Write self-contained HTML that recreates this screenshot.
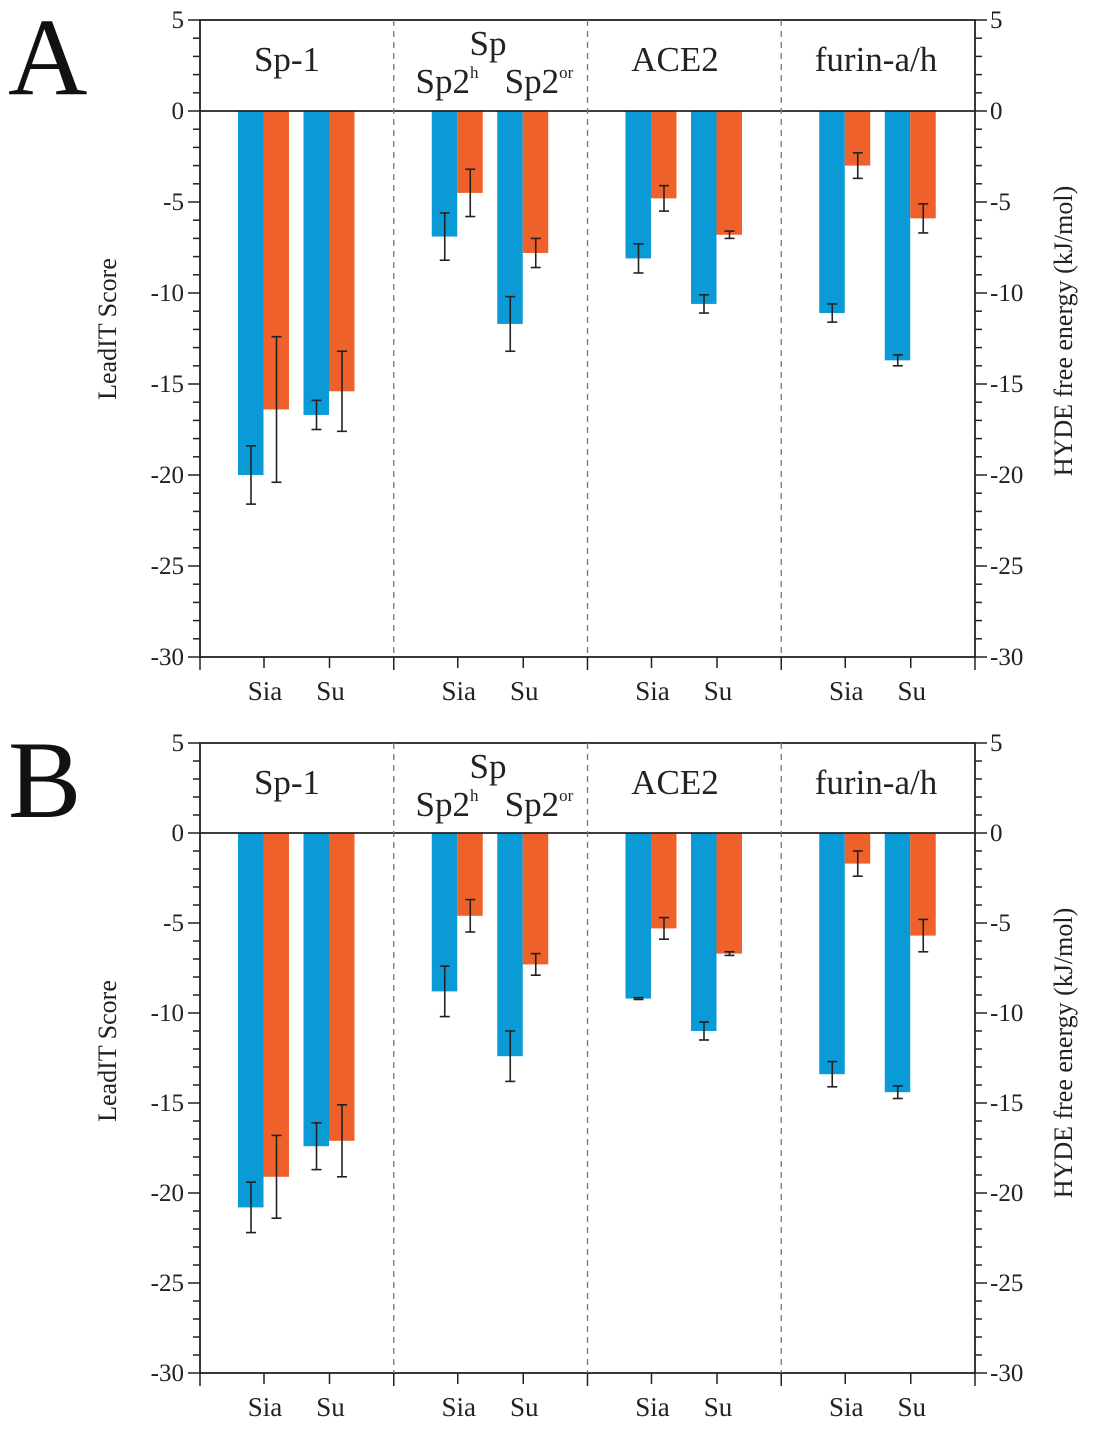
<!DOCTYPE html>
<html><head><meta charset="utf-8"><style>
body{margin:0;background:#fff;}
svg{display:block;font-family:"Liberation Serif",serif;}
</style></head><body>
<svg id="chart" width="1099" height="1438"></svg>
<script>
const groups=["Sp-1","Sp","ACE2","furin-a/h"];
const subcats=["Sia","Su"];
const aBlue=[-20.0,-16.7,-6.9,-11.7,-8.1,-10.6,-11.1,-13.7];
const aBlueErr=[1.6,0.8,1.3,1.5,0.8,0.5,0.5,0.3];
const aOrange=[-16.4,-15.4,-4.5,-7.8,-4.8,-6.8,-3.0,-5.9];
const aOrangeErr=[4.0,2.2,1.3,0.8,0.7,0.2,0.7,0.8];
const bBlue=[-20.8,-17.4,-8.8,-12.4,-9.2,-11.0,-13.4,-14.4];
const bBlueErr=[1.4,1.3,1.4,1.4,0.05,0.5,0.7,0.35];
const bOrange=[-19.1,-17.1,-4.6,-7.3,-5.3,-6.7,-1.7,-5.7];
const bOrangeErr=[2.3,2.0,0.9,0.6,0.6,0.1,0.7,0.9];
const yTicks=[5,0,-5,-10,-15,-20,-25,-30];

const svg=document.getElementById('chart');
const NS='http://www.w3.org/2000/svg';
function mk(tag,attrs,parent){const e=document.createElementNS(NS,tag);for(const k in attrs)e.setAttribute(k,attrs[k]);(parent||svg).appendChild(e);return e;}

function panel(letter,y5,y0,blue,blueErr,orange,orangeErr){
  const g=mk('g',{});
  
  
  const L=200,R=975,ppu=(y0-y5)/5;
  const Y=v=>y0-v*ppu;
  const yBot=Y(-30);
  const gw=(R-L)/4;
  const X=(gi,si)=>L+gi*gw+64+si*65.5;
  for(let i=0;i<8;i++){
    const gi=Math.floor(i/2),si=i%2,cx=X(gi,si);
    const b=mk('rect',{x:cx-26,y:y0,width:25.5,height:Y(blue[i])-y0,fill:'#0a9bd6'},g);
    
    
    const o=mk('rect',{x:cx-0.5,y:y0,width:25.5,height:Y(orange[i])-y0,fill:'#ef612b'},g);
    
    
    [[cx-13,blue[i],blueErr[i]],[cx+12.5,orange[i],orangeErr[i]]].forEach(([ex,v,e])=>{
      const eg=mk('g',{stroke:'#222','stroke-width':1.6},g);
      
      
      mk('line',{x1:ex,x2:ex,y1:Y(v+e),y2:Y(v-e)},eg);
      mk('line',{x1:ex-5,x2:ex+5,y1:Y(v+e),y2:Y(v+e)},eg);
      mk('line',{x1:ex-5,x2:ex+5,y1:Y(v-e),y2:Y(v-e)},eg);
    });
  }
  const f=mk('rect',{x:L,y:y5,width:R-L,height:yBot-y5,fill:'none',stroke:'#222','stroke-width':1.8},g);
  
  const z=mk('line',{x1:L,x2:R,y1:y0,y2:y0,stroke:'#222','stroke-width':1.8},g);
  
  for(let k=1;k<4;k++){
    const d=mk('line',{x1:L+k*gw,x2:L+k*gw,y1:y5,y2:yBot,stroke:'#777','stroke-width':1.3,'stroke-dasharray':'6,5'},g);
    
  }
  for(let v=5;v>=-30;v--){
    const maj=v%5===0;
    mk('line',{x1:L-(maj?12:7),x2:L,y1:Y(v),y2:Y(v),stroke:'#222','stroke-width':1.5},g);
    mk('line',{x1:R,x2:R+(maj?12:7),y1:Y(v),y2:Y(v),stroke:'#222','stroke-width':1.5},g);
  }
  yTicks.forEach(v=>{
    const t=mk('text',{x:L-16,y:Y(v)+8,'text-anchor':'end','font-size':25,fill:'#222'},g);t.textContent=v;
    
    const t2=mk('text',{x:R+15,y:Y(v)+8,'font-size':25,fill:'#222'},g);t2.textContent=v;
    
  });
  for(let k=0;k<=4;k++) mk('line',{x1:L+k*gw,x2:L+k*gw,y1:yBot,y2:yBot+13,stroke:'#222','stroke-width':1.5},g);
  for(let gi=0;gi<4;gi++)for(let si=0;si<2;si++){
    const cx=X(gi,si);
    mk('line',{x1:cx,x2:cx,y1:yBot,y2:yBot+11,stroke:'#222','stroke-width':1.5},g);
    const t=mk('text',{x:cx+1,y:yBot+43,'text-anchor':'middle','font-size':27,fill:'#222'},g);t.textContent=subcats[si];
    
  }
  const lbl=(x,y,s,sz,name)=>{const t=mk('text',{x:x,y:y,'text-anchor':'middle','font-size':sz||34,fill:'#222'},g);t.innerHTML=s;return t;};
  lbl(287,y5+51,'Sp-1',35,'group-label-sp1');
  lbl(488,y5+35,'Sp',35,'group-label-sp');
  lbl(447,y5+73,'Sp2<tspan font-size="17" dy="-15">h</tspan>',35,'group-label-sp2h');
  lbl(539,y5+73,'Sp2<tspan font-size="17" dy="-15">or</tspan>',35,'group-label-sp2or');
  lbl(675,y5+51,'ACE2',35,'group-label-ace2');
  lbl(876,y5+51,'furin-a/h',35,'group-label-furin');
  const lt=mk('text',{x:0,y:0,transform:`translate(116,${y0+218}) rotate(-90)`,'text-anchor':'middle','font-size':26,fill:'#222'},g);
  lt.textContent='LeadIT Score';
  const rt=mk('text',{x:0,y:0,transform:`translate(1072,${y0+220}) rotate(-90)`,'text-anchor':'middle','font-size':26,fill:'#222'},g);
  rt.textContent='HYDE free energy (kJ/mol)';
  const pl=mk('text',{x:8,y:y5+74,'font-size':110,fill:'#111'},g);
  pl.textContent=letter;
}
panel('A',20,111,aBlue,aBlueErr,aOrange,aOrangeErr);
panel('B',743,833,bBlue,bBlueErr,bOrange,bOrangeErr);
</script>
</body></html>
